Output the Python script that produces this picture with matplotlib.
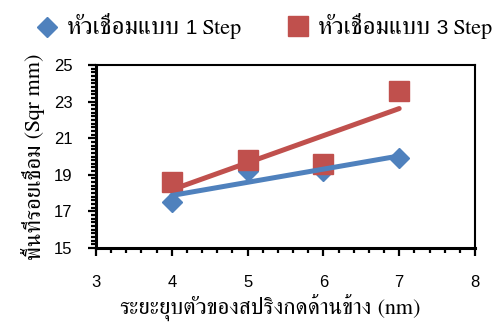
import matplotlib
matplotlib.use("Agg")
import numpy as np
import matplotlib.pyplot as plt
from matplotlib.ticker import FixedLocator, MultipleLocator
from matplotlib.lines import Line2D

# Spring compression (nm) and weld area (sq mm)
compression = [4, 5, 6, 7]
area_1step = [17.5, 19.2, 19.2, 19.9]
area_3step = [18.6, 19.8, 19.6, 23.6]

x_ticks = [3, 4, 5, 6, 7, 8]
y_ticks = [15, 17, 19, 21, 23, 25]

legend_thai = "หัวเชื่อมแบบ"
legend_steps = ["1", "3"]
xlabel_thai = "ระยะยุบตัวของสปริงกดด้านข้าง"
xlabel_unit = "(nm)"
ylabel_thai = "พื้นที่รอยเชื่อม"
ylabel_unit = "(Sqr mm)"

BLUE = "#4F81BD"
RED = "#C0504D"
SERIF = ["FreeSerif", "DejaVu Serif"]
SANS = ["Liberation Sans", "DejaVu Sans"]

W, H = 504, 327
fig = plt.figure(figsize=(W / 100, H / 100), dpi=100)
ax = fig.add_axes([96 / W, 1 - 248 / H, (475 - 96) / W, (248 - 65) / H])

# markers
ax.plot(compression, area_1step, linestyle="none", marker="D", markersize=10.5,
        color=BLUE, zorder=2, clip_on=False)
ax.plot(compression, area_3step, linestyle="none", marker="s", markersize=14,
        color=RED, zorder=3, clip_on=False)

# linear trend lines
xs = np.array(compression, dtype=float)
for ys, col, z in ((area_1step, BLUE, 4), (area_3step, RED, 5)):
    k, b = np.polyfit(xs, np.array(ys, dtype=float), 1)
    xe = np.array([xs.min(), xs.max()])
    ax.plot(xe, k * xe + b, color=col, linewidth=3.6, solid_capstyle="round", zorder=z)

ax.set_xlim(x_ticks[0], x_ticks[-1])
ax.set_ylim(y_ticks[0], y_ticks[-1])
ax.xaxis.set_major_locator(FixedLocator(x_ticks))
ax.xaxis.set_minor_locator(MultipleLocator(0.2))
ax.yaxis.set_major_locator(FixedLocator(y_ticks))
ax.yaxis.set_minor_locator(MultipleLocator(0.2))

for side in ("left", "bottom"):
    ax.spines[side].set_linewidth(2.2)
for side in ("top", "right"):
    ax.spines[side].set_linewidth(1.5)

ax.tick_params(which="major", direction="out", length=5.8, width=1.6,
               labelsize=12, colors="black")
ax.tick_params(which="minor", direction="out", length=3.6, width=1.6)
ax.tick_params(axis="x", which="major", pad=13.5)
ax.tick_params(axis="y", which="major", pad=11)
for lab in ax.get_xticklabels() + ax.get_yticklabels():
    lab.set_family(SANS)

renderer = fig.canvas.get_renderer()


def run_text(runs, x, y, rotation=0, center=True):
    """Lay out (text, family, size) runs end to end on one baseline, in pixels."""
    items = []
    for s, fam, size in runs:
        t = fig.text(0, 0, s, family=fam, fontsize=size, ha="left", va="baseline",
                     rotation_mode="anchor")
        w = t.get_window_extent(renderer).width
        t.set_rotation(rotation)
        items.append((t, w))
    total = sum(w for _, w in items)
    pos = -total / 2 if center else 0.0
    c, s = np.cos(np.radians(rotation)), np.sin(np.radians(rotation))
    for t, w in items:
        t.set_position(((x + c * pos) / W, 1 - (y - s * pos) / H))
        pos += w


# axis titles
run_text([(xlabel_thai, SERIF, 16.5), (" " + xlabel_unit, SERIF, 16)], 270, 314)
run_text([(ylabel_thai, SERIF, 16.5), (" " + ylabel_unit, SERIF, 16)], 40, 156,
         rotation=90)

# legend row
for (mx, my), mk, ms, col, step in (((47, 27), "D", 10.5, BLUE, legend_steps[0]),
                                     ((298, 26), "s", 14, RED, legend_steps[1])):
    fig.add_artist(Line2D([mx / W], [1 - my / H], linestyle="none", marker=mk,
                          markersize=ms, color=col, transform=fig.transFigure))
    run_text([(legend_thai, SERIF, 18), (" " + step, SANS, 15), (" Step", SERIF, 16)],
             mx + 20, 34, center=False)

fig.savefig("out.png")
